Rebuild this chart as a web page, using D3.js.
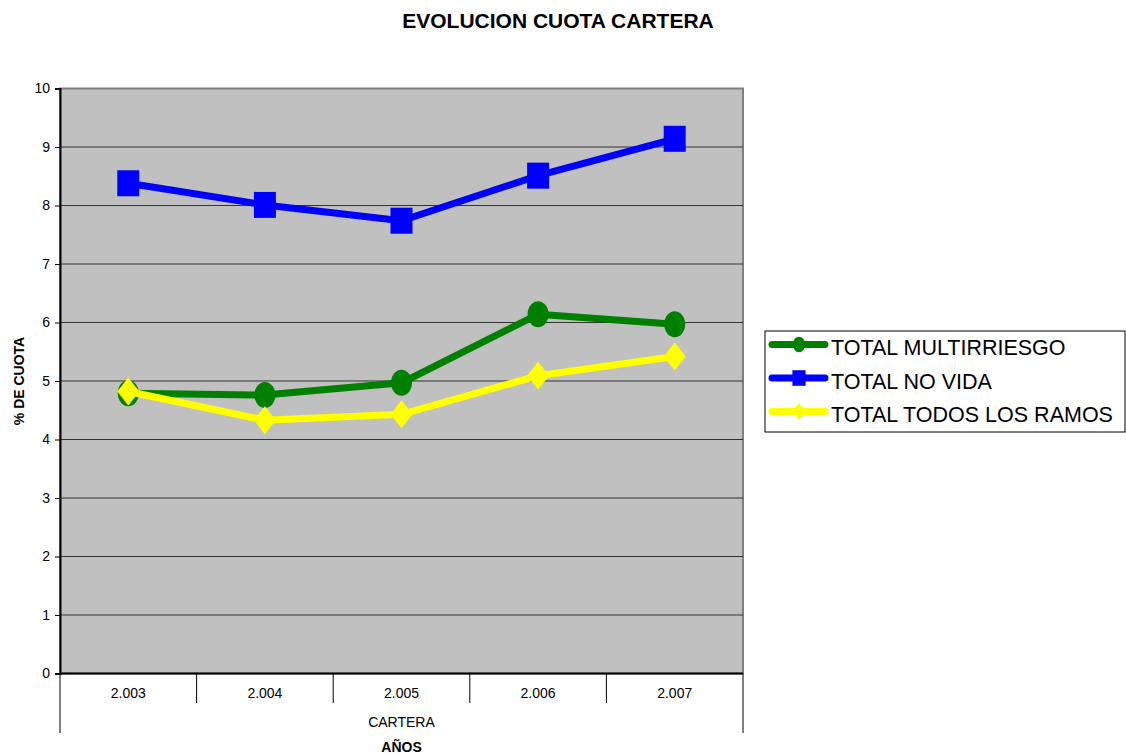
<!DOCTYPE html>
<html>
<head>
<meta charset="utf-8">
<script src="https://cdn.jsdelivr.net/npm/d3@7"></script>
<style>
  body { margin: 0; background: #fff; }
  text { font-family: Arial, "Liberation Sans", sans-serif; }
</style>
</head>
<body>
<div id="chart"></div>
<script>
// datos
const years = ['2.003', '2.004', '2.005', '2.006', '2.007'];
const multirriesgo = [4.79, 4.76, 4.97, 6.14, 5.97];
const noVida = [8.38, 8.01, 7.74, 8.51, 9.14];
const todosRamos = [4.82, 4.33, 4.43, 5.09, 5.42];
const yTicks = [0, 1, 2, 3, 4, 5, 6, 7, 8, 9, 10];
const seriesNames = ['TOTAL MULTIRRIESGO', 'TOTAL NO VIDA', 'TOTAL TODOS LOS RAMOS'];

const width = 1126, height = 756;
const plot = { left: 60, right: 743, top: 88.5, bottom: 673.5 };

const svg = d3.select('#chart').append('svg')
    .attr('width', width)
    .attr('height', height);

// Escalas
const x = d3.scaleBand().domain(years).range([plot.left, plot.right]);
const y = d3.scaleLinear().domain([0, 10]).range([plot.bottom, plot.top]);

// Fondo del area
svg.append('rect')
    .attr('x', plot.left).attr('y', plot.top)
    .attr('width', plot.right - plot.left).attr('height', plot.bottom - plot.top)
    .attr('fill', '#c0c0c0')
    .attr('stroke', '#808080').attr('stroke-width', 2);

// Rejilla
svg.append('g').selectAll('line')
    .data(yTicks.filter(d => d > 0 && d < 10))
    .enter().append('line')
    .attr('x1', plot.left).attr('x2', plot.right)
    .attr('y1', d => y(d)).attr('y2', d => y(d))
    .attr('stroke', '#333').attr('stroke-width', 1);

// Eje Y
const yAxis = svg.append('g')
    .attr('transform', `translate(${plot.left},0)`)
    .call(d3.axisLeft(y).tickValues(yTicks).tickSize(5).tickPadding(5));
yAxis.select('.domain').attr('stroke', '#000').attr('stroke-width', 2);
yAxis.selectAll('.tick line').attr('stroke', '#000');
yAxis.selectAll('text').attr('font-size', 14).attr('fill', '#000')
    .style('font-family', 'Arial, "Liberation Sans", sans-serif');

// Eje X (linea base)
svg.append('line')
    .attr('x1', plot.left).attr('x2', plot.right)
    .attr('y1', plot.bottom).attr('y2', plot.bottom)
    .attr('stroke', '#000').attr('stroke-width', 2);

// Separadores de categorias
const bounds = years.map(d => x(d)).concat([plot.right]);
svg.append('g').selectAll('line')
    .data(bounds)
    .enter().append('line')
    .attr('x1', d => d).attr('x2', d => d)
    .attr('y1', plot.bottom)
    .attr('y2', (d, i) => (i === 0 || i === bounds.length - 1) ? 733 : 703)
    .attr('stroke', '#000').attr('stroke-width', 1);

svg.append('g').selectAll('text')
    .data(years)
    .enter().append('text')
    .attr('x', d => x(d) + x.bandwidth() / 2)
    .attr('y', 698)
    .attr('text-anchor', 'middle')
    .attr('font-size', 14)
    .text(d => d);

svg.append('text')
    .attr('x', (plot.left + plot.right) / 2).attr('y', 727)
    .attr('text-anchor', 'middle').attr('font-size', 14)
    .text('CARTERA');

svg.append('text')
    .attr('x', (plot.left + plot.right) / 2).attr('y', 752)
    .attr('text-anchor', 'middle').attr('font-size', 14).attr('font-weight', 'bold')
    .text('AÑOS');

// Titulo
svg.append('text')
    .attr('x', 558).attr('y', 28)
    .attr('text-anchor', 'middle').attr('font-size', 21).attr('font-weight', 'bold')
    .text('EVOLUCION CUOTA CARTERA');

// Titulo eje Y
svg.append('text')
    .attr('transform', `translate(24,381) rotate(-90)`)
    .attr('text-anchor', 'middle').attr('font-size', 14).attr('font-weight', 'bold')
    .text('% DE CUOTA');

// Series
const series = [
    { name: seriesNames[0], values: multirriesgo, color: '#008000', shape: 'circle' },
    { name: seriesNames[1], values: noVida, color: '#0000ff', shape: 'square' },
    { name: seriesNames[2], values: todosRamos, color: '#ffff00', shape: 'diamond' }
];

const line = d3.line()
    .x((d, i) => x(years[i]) + x.bandwidth() / 2)
    .y(d => y(d));

function drawMarker(g, shape, cx, cy, color, s) {
    if (shape === 'circle') {
        g.append('ellipse').attr('cx', cx).attr('cy', cy)
            .attr('rx', 10.5 * s).attr('ry', 13 * s).attr('fill', color);
    } else if (shape === 'square') {
        g.append('rect').attr('x', cx - 11 * s).attr('y', cy - 13 * s)
            .attr('width', 22 * s).attr('height', 26 * s).attr('fill', color);
    } else {
        g.append('path')
            .attr('d', `M${cx},${cy - 14 * s}L${cx + 11 * s},${cy}L${cx},${cy + 14 * s}L${cx - 11 * s},${cy}Z`)
            .attr('fill', color);
    }
}

series.forEach(s => {
    const g = svg.append('g');
    g.append('path')
        .datum(s.values)
        .attr('d', line)
        .attr('fill', 'none')
        .attr('stroke', s.color)
        .attr('stroke-width', 7)
        .attr('stroke-linejoin', 'round');
    s.values.forEach((v, i) => {
        drawMarker(g, s.shape, x(years[i]) + x.bandwidth() / 2, y(v), s.color, 1);
    });
});

// Leyenda
const legend = svg.append('g');
legend.append('rect')
    .attr('x', 765).attr('y', 331).attr('width', 360).attr('height', 101)
    .attr('fill', '#fff').attr('stroke', '#000').attr('stroke-width', 1);

series.forEach((s, i) => {
    const base = 355 + i * 33.5;
    const ly = base - 10.5;
    legend.append('line')
        .attr('x1', 772).attr('x2', 825)
        .attr('y1', ly).attr('y2', ly)
        .attr('stroke', s.color).attr('stroke-width', 7)
        .attr('stroke-linecap', 'round');
    drawMarker(legend, s.shape, 799, ly, s.color, 0.6);
    legend.append('text')
        .attr('x', 831).attr('y', base)
        .attr('font-size', 21.5)
        .text(s.name);
});
</script>
</body>
</html>
